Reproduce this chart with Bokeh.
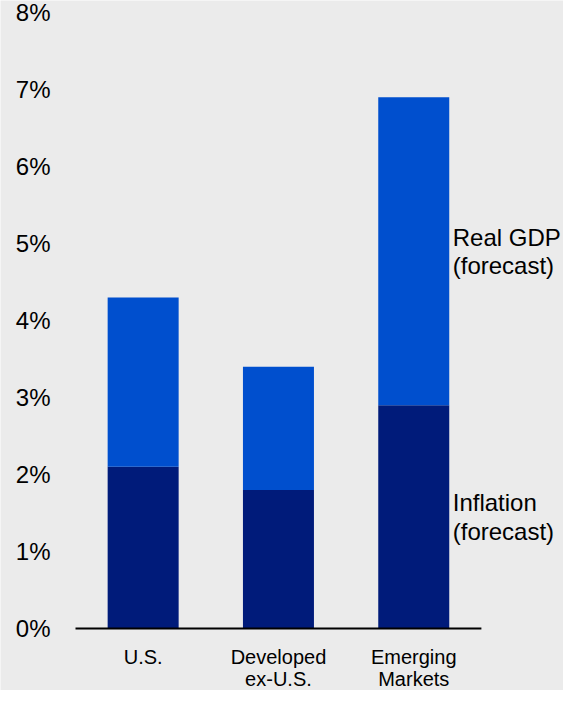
from bokeh.plotting import figure
from bokeh.models import Range1d
from bokeh.core.properties import value
from bokeh.embed import file_html
from bokeh.resources import INLINE

regions = ["U.S.", "Developed\nex-U.S.", "Emerging\nMarkets"]
inflation = [2.1, 1.8, 2.9]
real_gdp = [2.2, 1.6, 4.0]
y_ticks = [0, 1, 2, 3, 4, 5, 6, 7, 8]
y_tick_labels = ["0%", "1%", "2%", "3%", "4%", "5%", "6%", "7%", "8%"]
series_labels = ["Inflation\n(forecast)", "Real GDP\n(forecast)"]

BG = "#ebebeb"
NAVY = "#001b7a"
BLUE = "#004fce"
FONT = "Liberation Sans"

W, H = 563, 690
LEFT = 75          # px where the category band starts
UNIT_X = 135.3     # px per category
UNIT_Y = 77.0      # px per 1%
TOP_8 = 12         # px of the 8% line from top
AXIS_PX = TOP_8 + 8 * UNIT_Y

x_lo = -0.5 - LEFT / UNIT_X
x_hi = -0.5 + (W - LEFT) / UNIT_X
y_hi = 8 + TOP_8 / UNIT_Y
y_lo = -(H - AXIS_PX) / UNIT_Y

p = figure(
    width=W, height=H,
    x_range=Range1d(x_lo, x_hi), y_range=Range1d(y_lo, y_hi),
    output_backend="svg", toolbar_location=None,
    x_axis_location=None, y_axis_location=None,
    min_border=0,
)
p.background_fill_color = BG
p.border_fill_color = BG
p.outline_line_color = None
p.xgrid.visible = False
p.ygrid.visible = False

xs = list(range(len(regions)))
data = {"x": xs, "inflation": inflation, "real_gdp": real_gdp}
p.vbar_stack(["inflation", "real_gdp"], x="x", width=71 / UNIT_X,
             color=[NAVY, BLUE], line_color=None, source=data)

# baseline axis line
p.segment(x0=[-0.5], y0=[0], x1=[len(regions) - 0.5], y1=[0],
          line_color="black", line_width=2)

# y tick labels
p.text(x=[-0.5 - 25 / UNIT_X] * len(y_ticks), y=y_ticks, text=y_tick_labels,
       text_font=value(FONT), text_font_size="24px", text_color="black",
       text_align="right", text_baseline="middle")

# category labels (two lines)
line1 = [r.split("\n")[0] for r in regions]
line2 = [r.split("\n")[1] if "\n" in r else "" for r in regions]
for lines, off in ((line1, 28), (line2, 50)):
    p.text(x=xs, y=[-off / UNIT_Y] * len(xs), text=lines,
           text_font=value(FONT), text_font_size="20px", text_color="black",
           text_align="center", text_baseline="alphabetic")

# series labels on the right
lab_x = 2 + 39 / UNIT_X
for txt, y1 in zip(series_labels, [1.63, 5.08]):
    a, b = txt.split("\n")
    p.text(x=[lab_x, lab_x], y=[y1, y1 - 28.5 / UNIT_Y], text=[a, b],
           text_font=value(FONT), text_font_size="24px", text_color="black",
           text_align="left", text_baseline="alphabetic")

open("out.html", "w").write(file_html(p, INLINE))
